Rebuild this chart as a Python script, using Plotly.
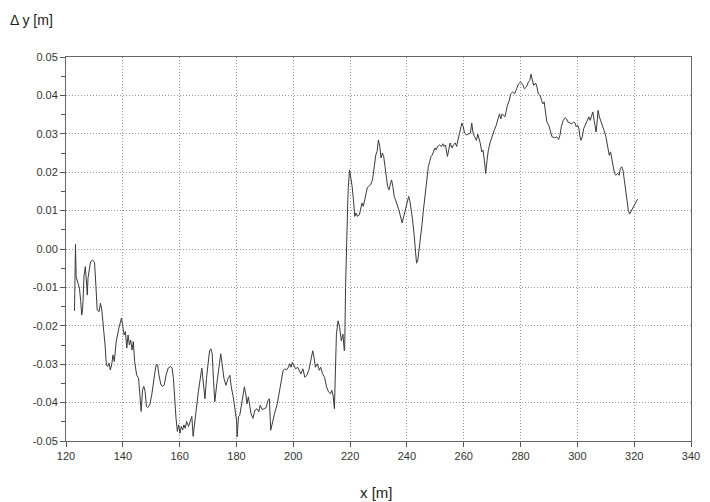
import plotly.graph_objects as go

x_m = [122.99, 123.11, 123.34, 123.57, 124.27, 124.73, 125.19, 125.54, 125.89, 126.35, 126.81, 127.28, 127.51,
       127.74, 128.20, 128.66, 129.36, 130.05, 130.51, 130.98, 131.67, 132.13, 132.60, 133.06, 133.75, 134.21,
       134.68, 135.14, 135.60, 136.07, 136.53, 136.99, 137.68, 138.61, 139.53, 140.00, 140.46, 140.92, 141.39,
       141.85, 142.31, 142.77, 143.24, 143.70, 144.16, 144.86, 145.55, 146.01, 146.47, 146.94, 147.40, 147.86,
       148.32, 148.79, 149.48, 150.18, 150.87, 151.33, 151.79, 152.26, 152.72, 153.41, 154.11, 154.57, 155.26,
       155.96, 156.88, 157.35, 157.81, 158.27, 158.73, 159.20, 159.66, 160.12, 160.59, 161.05, 161.51, 161.97,
       162.44, 163.13, 163.82, 164.29, 164.75, 165.21, 165.90, 166.60, 167.80,
       168.91, 169.49, 170.07, 170.53, 170.99, 171.46, 171.92, 172.38, 173.08, 173.77, 174.46, 174.93, 175.62,
       176.32, 177.01, 177.70, 178.17, 178.86, 179.55, 180.02, 180.25, 180.71, 181.17, 181.64, 182.33, 182.79,
       183.26, 183.72, 184.18, 184.64, 185.11, 185.80, 186.49, 187.19, 187.88, 188.34, 189.04, 189.73, 190.43,
       191.12, 191.58, 192.05, 192.74, 193.43, 194.36, 195.05, 195.75, 196.44, 197.13, 197.60, 198.29, 198.75,
       199.22, 199.68, 200.14, 200.84, 201.53, 201.99, 202.69, 203.38, 204.07, 204.77, 205.46, 206.16, 206.85,
       207.31, 207.78, 208.47, 209.16, 209.63, 210.32, 211.01, 211.71, 212.40, 213.10, 213.56, 214.02, 214.48,
       214.95, 215.18, 215.76, 216.33, 216.91, 217.49, 217.95, 218.10, 218.40, 218.60, 218.80, 219.20, 219.40,
       219.60, 219.80,
       220.26, 220.72, 221.18, 221.65, 222.11, 222.57, 223.27, 223.73, 224.19, 224.65, 225.12, 225.58, 226.04,
       226.50, 227.20, 227.89, 228.59, 229.05, 229.51, 229.97, 230.44, 230.90, 231.36, 231.83, 232.29, 232.75,
       233.21, 233.68, 234.14, 234.60, 235.06, 235.53, 235.99, 236.68, 237.15, 237.61, 238.30, 238.76, 239.23,
       239.69, 240.15, 240.62, 241.08, 241.54, 242.00, 242.47, 242.93, 243.39, 243.85, 244.32, 244.78, 245.24,
       245.70, 246.17, 246.63, 247.09, 247.55, 248.02, 248.48, 248.94, 249.41, 249.87, 250.33, 250.79, 251.49,
       252.18, 252.64, 253.11, 253.57, 254.26, 254.73, 255.19, 255.88, 256.35, 257.04, 257.50, 257.97, 258.43,
       258.89, 259.35, 259.81, 260.28, 260.97, 261.67, 262.36, 262.82, 263.29, 263.75,
       264.49, 264.95, 265.42, 265.88, 266.34, 266.81, 267.27, 267.73, 268.20, 268.66, 269.35, 270.05, 270.74,
       271.43, 272.13, 272.59, 273.05, 273.52, 273.98, 274.44, 274.90, 275.37, 276.06, 276.52, 277.22, 277.91,
       278.60, 279.30, 279.99, 280.69, 281.38, 282.07, 282.77, 283.23, 283.69, 284.16, 284.62, 285.31, 285.78,
       286.24, 286.93, 287.39, 287.86, 288.32, 288.78, 289.25, 289.94, 290.63, 291.10, 292.02, 292.72, 293.41,
       293.87, 294.34, 295.03, 295.72, 296.18, 296.65, 297.34, 298.03, 298.73, 299.19, 299.65, 300.12, 300.58,
       300.81, 301.27, 301.74, 302.20, 302.66, 303.12, 303.59, 304.05, 304.51, 304.98, 305.44, 305.90, 306.36,
       306.59, 307.06, 307.29, 307.75, 308.21, 308.68, 309.37, 310.06, 310.76, 311.22, 311.68, 312.15, 312.61,
       313.07, 313.53, 314.23, 314.69, 315.15, 315.61, 316.08, 316.54, 317.00, 317.47, 317.93, 318.39, 318.85,
       319.32, 320.01, 320.70, 321.20]

dy_m = [-0.0161, -0.0076, 0.0012, -0.0072, -0.0089, -0.0102, -0.0137, -0.0172, -0.0154, -0.0068, -0.0046,
        -0.0094, -0.0120, -0.0076, -0.0050, -0.0033, -0.0029, -0.0035, -0.0094, -0.0159, -0.0163, -0.0141,
        -0.0159, -0.0189, -0.0250, -0.0302, -0.0306, -0.0297, -0.0315, -0.0302, -0.0276, -0.0293, -0.0241,
        -0.0206, -0.0180, -0.0202, -0.0224, -0.0215, -0.0258, -0.0224, -0.0250, -0.0237, -0.0263, -0.0241,
        -0.0293, -0.0328, -0.0337, -0.0380, -0.0423, -0.0367, -0.0358, -0.0371, -0.0410, -0.0413, -0.0406,
        -0.0380, -0.0337, -0.0319, -0.0300, -0.0302, -0.0328, -0.0354, -0.0358, -0.0354, -0.0328, -0.0310,
        -0.0306, -0.0310, -0.0337, -0.0406, -0.0441, -0.0475, -0.0458, -0.0480, -0.0462, -0.0471, -0.0458,
        -0.0467, -0.0449, -0.0462, -0.0445, -0.0436, -0.0488, -0.0458, -0.0415, -0.0371, -0.0310,
        -0.0390, -0.0334, -0.0291, -0.0265, -0.0260, -0.0273, -0.0342, -0.0398, -0.0351, -0.0308, -0.0273,
        -0.0299, -0.0338, -0.0355, -0.0338, -0.0329, -0.0359, -0.0385, -0.0416, -0.0446, -0.0489, -0.0437,
        -0.0433, -0.0411, -0.0385, -0.0359, -0.0377, -0.0403, -0.0385, -0.0411, -0.0428, -0.0441, -0.0420,
        -0.0416, -0.0424, -0.0407, -0.0418, -0.0416, -0.0413, -0.0394, -0.0390, -0.0472, -0.0446, -0.0428,
        -0.0403, -0.0372, -0.0342, -0.0316, -0.0312, -0.0315, -0.0308, -0.0299, -0.0308, -0.0295, -0.0303,
        -0.0312, -0.0308, -0.0316, -0.0325, -0.0312, -0.0334, -0.0329, -0.0316, -0.0291, -0.0265, -0.0282,
        -0.0308, -0.0299, -0.0316, -0.0308, -0.0325, -0.0334, -0.0359, -0.0372, -0.0377, -0.0368, -0.0381,
        -0.0416, -0.0252, -0.0222, -0.0187, -0.0204, -0.0239, -0.0222, -0.0265, -0.0260, -0.0100, -0.0028,
        0.0059, 0.0128, 0.0163, 0.0198, 0.0206,
        0.0185, 0.0163, 0.0128, 0.0085, 0.0094, 0.0085, 0.0089, 0.0102, 0.0120, 0.0111, 0.0128, 0.0141,
        0.0159, 0.0163, 0.0167, 0.0180, 0.0215, 0.0245, 0.0254, 0.0284, 0.0267, 0.0237, 0.0250, 0.0241,
        0.0215, 0.0180, 0.0163, 0.0154, 0.0171, 0.0180, 0.0163, 0.0137, 0.0128, 0.0115, 0.0102, 0.0089,
        0.0068, 0.0081, 0.0094, 0.0107, 0.0124, 0.0137, 0.0124, 0.0102, 0.0076, 0.0042, -0.0002, -0.0037,
        -0.0028, -0.0002, 0.0024, 0.0059, 0.0094, 0.0128, 0.0163, 0.0189, 0.0215, 0.0228, 0.0241, 0.0245,
        0.0254, 0.0263, 0.0258, 0.0267, 0.0271, 0.0267, 0.0274, 0.0267, 0.0271, 0.0241, 0.0258, 0.0276,
        0.0263, 0.0271, 0.0276, 0.0267, 0.0284, 0.0302, 0.0315, 0.0328, 0.0319, 0.0302, 0.0297, 0.0300,
        0.0302, 0.0328, 0.0302, 0.0293,
        0.0283, 0.0299, 0.0287, 0.0274, 0.0253, 0.0257, 0.0231, 0.0197, 0.0231, 0.0257, 0.0279, 0.0296,
        0.0309, 0.0322, 0.0344, 0.0352, 0.0339, 0.0352, 0.0348, 0.0344, 0.0357, 0.0374, 0.0387, 0.0404,
        0.0409, 0.0404, 0.0417, 0.0430, 0.0435, 0.0429, 0.0417, 0.0422, 0.0435, 0.0439, 0.0455, 0.0439,
        0.0426, 0.0432, 0.0422, 0.0404, 0.0400, 0.0387, 0.0378, 0.0383, 0.0352, 0.0331, 0.0322, 0.0300,
        0.0292, 0.0290, 0.0292, 0.0285, 0.0296, 0.0318, 0.0335, 0.0342, 0.0339, 0.0331, 0.0328, 0.0326,
        0.0331, 0.0328, 0.0318, 0.0322, 0.0313, 0.0296, 0.0283, 0.0292, 0.0313, 0.0322, 0.0331, 0.0339,
        0.0344, 0.0335, 0.0348, 0.0357, 0.0335, 0.0318, 0.0305, 0.0339, 0.0361, 0.0344, 0.0335, 0.0322,
        0.0309, 0.0292, 0.0266, 0.0244, 0.0253, 0.0231, 0.0214, 0.0197, 0.0192, 0.0197, 0.0192, 0.0210,
        0.0214, 0.0205, 0.0179, 0.0153, 0.0127, 0.0101, 0.0091, 0.0097, 0.0101, 0.0110, 0.0123, 0.0130]

x_ticks = [120, 140, 160, 180, 200, 220, 240, 260, 280, 300, 320, 340]
y_ticks = [0.05, 0.04, 0.03, 0.02, 0.01, 0.0, -0.01, -0.02, -0.03, -0.04, -0.05]
y_tick_labels = ["0.05", "0.04", "0.03", "0.02", "0.01", "0.00", "-0.01", "-0.02", "-0.03", "-0.04", "-0.05"]

fig = go.Figure()
fig.add_trace(go.Scatter(x=x_m, y=dy_m, mode="lines",
                         line=dict(color="#3a3a3a", width=1), showlegend=False))

font_family = "Liberation Sans, Arial, sans-serif"
grid_dash = "1px,2px"

fig.update_layout(
    width=710, height=502,
    margin=dict(l=66, r=10, t=57, b=61),
    paper_bgcolor="white", plot_bgcolor="white",
    font=dict(family=font_family, size=11, color="#333333"),
    xaxis=dict(range=[120, 340], tickvals=x_ticks, showgrid=True,
               gridcolor="#999999", griddash=grid_dash, gridwidth=1,
               showline=True, linecolor="#666666", linewidth=1, mirror=True,
               ticks="outside", ticklen=5, tickcolor="#555555",
               tickfont=dict(size=11, color="#333333"), zeroline=False),
    yaxis=dict(range=[-0.05, 0.05], tickvals=y_ticks, ticktext=y_tick_labels, showgrid=True,
               gridcolor="#999999", griddash=grid_dash, gridwidth=1,
               showline=True, linecolor="#666666", linewidth=1, mirror=True,
               ticks="outside", ticklen=5, tickcolor="#555555",
               minor=dict(dtick=0.005, ticks="outside", ticklen=4, tickcolor="#555555", showgrid=False),
               tickfont=dict(size=11, color="#333333"), zeroline=False),
    annotations=[
        dict(text="Δ y [m]", xref="paper", yref="paper", x=-0.093, y=1.096,
             xanchor="left", yanchor="middle", showarrow=False,
             font=dict(size=14, color="#222222", family=font_family)),
        dict(text="x [m]", xref="paper", yref="paper", x=0.497, y=-0.135,
             xanchor="center", yanchor="middle", showarrow=False,
             font=dict(size=15, color="#222222", family=font_family)),
    ],
)

fig.write_html("out.html", config={"displayModeBar": False},
               post_script="document.body.style.margin='0';document.body.style.overflow='hidden';")
